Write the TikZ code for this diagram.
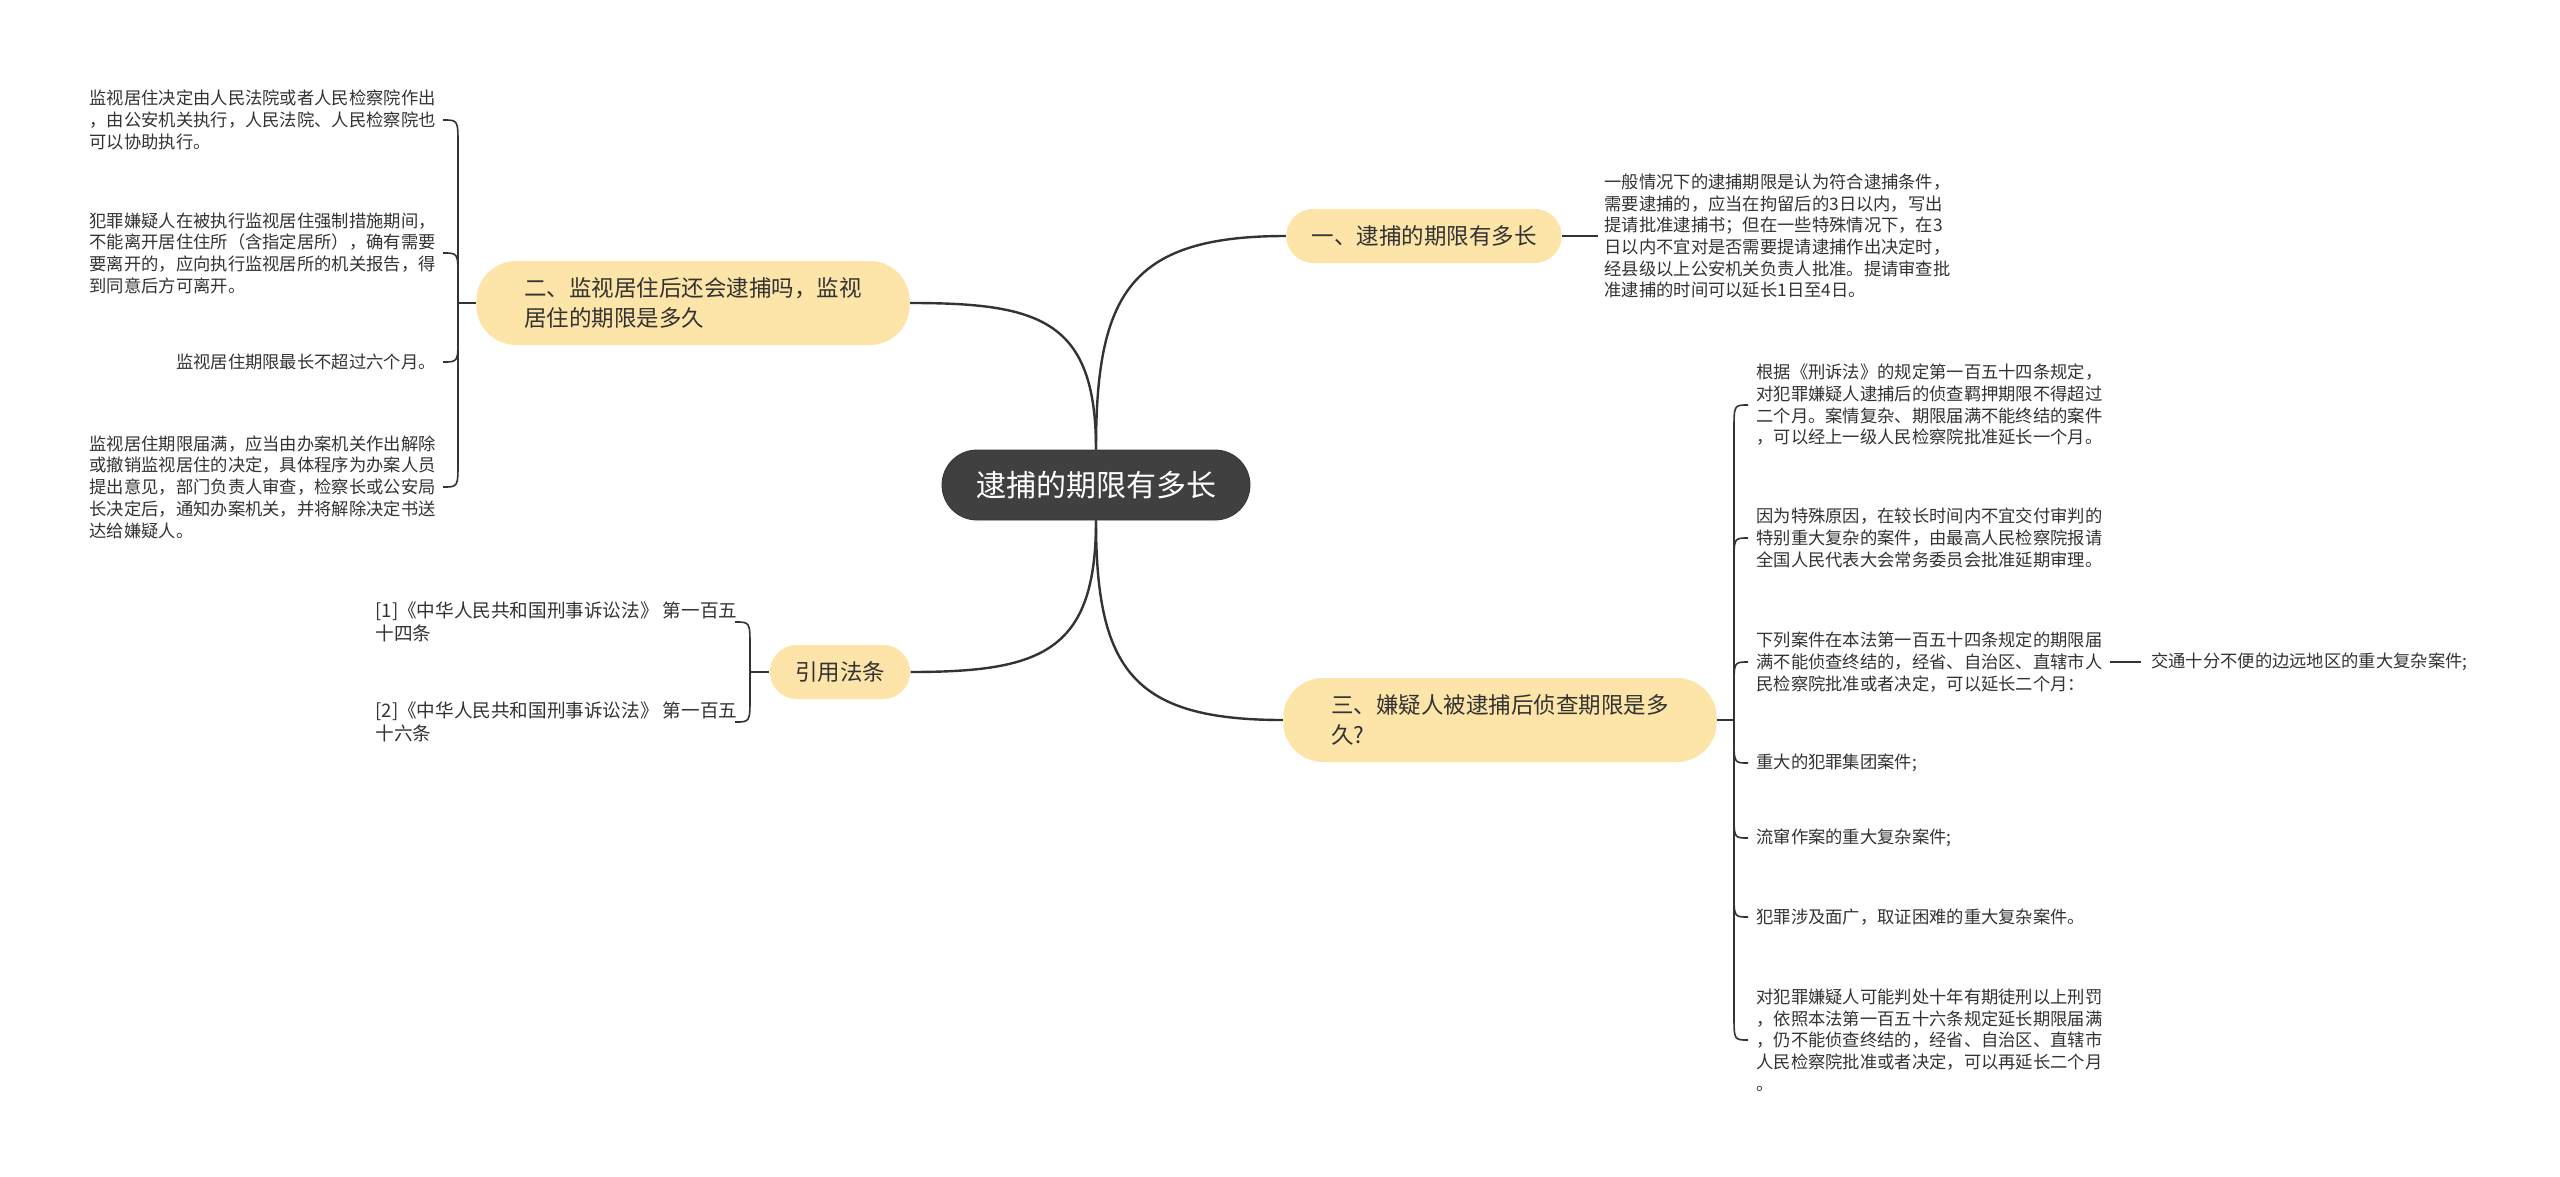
\documentclass[tikz,border=0pt]{standalone}
\usepackage{fontspec}
\setmainfont{Noto Sans CJK SC}
\usepackage{tikz}
\usetikzlibrary{positioning, calc}

\definecolor{branchFill}{HTML}{FDE5A9}
\definecolor{rootFill}{HTML}{404040}
\definecolor{lineGray}{HTML}{333333}
\definecolor{textGray}{HTML}{333333}

\begin{document}
\begin{tikzpicture}[ % 思维导图: 逮捕的期限
    x=0.5pt, y=-0.5pt, % 坐标按像素计
    root/.style={rectangle, draw=black!80, fill=rootFill, text=white, rounded corners=17.5pt, minimum width=154pt, minimum height=35pt, inner sep=0pt, font=\fontsize{15}{18}\selectfont},
    branch/.style={rectangle, fill=branchFill, text=textGray, rounded corners=13.5pt, minimum height=27pt, inner xsep=12.6pt, inner ysep=0pt, font=\fontsize{11.25}{15}\selectfont},
    branchwide/.style={branch, rounded corners=20pt, minimum height=42pt, inner xsep=24pt, align=left}, % 两行的分支
    leaf/.style={text=textGray, inner sep=0pt, align=left, font=\fontsize{8.65}{10.85}\selectfont},
    citeleaf/.style={leaf, font=\fontsize{9.3}{11.5}\selectfont}, % 引用条文稍宽
    mainline/.style={draw=lineGray, line width=1.2pt},
    subline/.style={draw=lineGray, line width=0.8pt}
    ]

    \fill[white] (0,0) rectangle (2560,1177);
    \useasboundingbox (0,0) rectangle (2560,1177);

    % Root and branches
    \node [root] (root) at (1096,485) {逮捕的期限有多长};
    \node [branch] (durationA) at (1424,236) {一、逮捕的期限有多长};
    \node [branchwide] (residenceB) at (693,303) {二、监视居住后还会逮捕吗，监视\\居住的期限是多久};
    \node [branch] (citeLaw) at (840,672) {引用法条};
    \node [branchwide] (detentionC) at (1500,720) {三、嫌疑人被逮捕后侦查期限是多\\久?};

    % 一
    \node [leaf, right=21pt of durationA] (durationText) {一般情况下的逮捕期限是认为符合逮捕条件，\\需要逮捕的，应当在拘留后的3日以内，写出\\提请批准逮捕书；但在一些特殊情况下，在3\\日以内不宜对是否需要提请逮捕作出决定时，\\经县级以上公安机关负责人批准。提请审查批\\准逮捕的时间可以延长1日至4日。};

    % 二
    \node [leaf, anchor=east] (residenceDecide) at (436,120) {监视居住决定由人民法院或者人民检察院作出\\，由公安机关执行，人民法院、人民检察院也\\可以协助执行。};
    \node [leaf, anchor=east] (residenceLeave) at (436,253) {犯罪嫌疑人在被执行监视居住强制措施期间，\\不能离开居住住所（含指定居所），确有需要\\要离开的，应向执行监视居所的机关报告，得\\到同意后方可离开。};
    \node [leaf, anchor=east] (residenceMax) at (436,362) {监视居住期限最长不超过六个月。};
    \node [leaf, anchor=east] (residenceEnd) at (436,487) {监视居住期限届满，应当由办案机关作出解除\\或撤销监视居住的决定，具体程序为办案人员\\提出意见，部门负责人审查，检察长或公安局\\长决定后，通知办案机关，并将解除决定书送\\达给嫌疑人。};

    % 引用法条
    \node [citeleaf, anchor=west] (citeFirst) at (375,622) {[1]《中华人民共和国刑事诉讼法》 第一百五\\十四条};
    \node [citeleaf, anchor=west] (citeSecond) at (375,722) {[2]《中华人民共和国刑事诉讼法》 第一百五\\十六条};

    % 三
    \node [leaf, anchor=west] (caseBasic) at (1756,405) {根据《刑诉法》的规定第一百五十四条规定，\\对犯罪嫌疑人逮捕后的侦查羁押期限不得超过\\二个月。案情复杂、期限届满不能终结的案件\\，可以经上一级人民检察院批准延长一个月。};
    \node [leaf, anchor=west] (caseSpecial) at (1756,538) {因为特殊原因，在较长时间内不宜交付审判的\\特别重大复杂的案件，由最高人民检察院报请\\全国人民代表大会常务委员会批准延期审理。};
    \node [leaf, anchor=west] (caseListed) at (1756,662) {下列案件在本法第一百五十四条规定的期限届\\满不能侦查终结的，经省、自治区、直辖市人\\民检察院批准或者决定，可以延长二个月：};
    \node [leaf, right=24pt of caseListed] (caseRemote) {交通十分不便的边远地区的重大复杂案件;};
    \node [leaf, anchor=west] (caseGang) at (1756,763) {重大的犯罪集团案件;};
    \node [leaf, anchor=west] (caseRoving) at (1756,838) {流窜作案的重大复杂案件;};
    \node [leaf, anchor=west] (caseWide) at (1756,917) {犯罪涉及面广，取证困难的重大复杂案件。};
    \node [leaf, anchor=west] (caseHeavy) at (1756,1040) {对犯罪嫌疑人可能判处十年有期徒刑以上刑罚\\，依照本法第一百五十六条规定延长期限届满\\，仍不能侦查终结的，经省、自治区、直辖市\\人民检察院批准或者决定，可以再延长二个月\\。};

    % Root to branches
    \path [mainline] (root.north) to[out=90, in=180, looseness=1.4] (durationA.west);
    \path [mainline] (root.north) to[out=90, in=0, looseness=1.4] (residenceB.east);
    \path [mainline] (root.south) to[out=-90, in=0, looseness=1.4] (citeLaw.east);
    \path [mainline] (root.south) to[out=-90, in=180, looseness=1.4] (detentionC.west);

    % 一
    \path [subline] (durationA.east) -- ([xshift=-3pt]durationText.west);

    % 二: bracket
    \coordinate (residenceSpine) at (458,303);
    \path [subline] (residenceB.west) -- (residenceSpine);
    \path [subline] (residenceSpine) -- ($(residenceSpine |- residenceDecide.east)+(0,25)$) .. controls (residenceSpine |- residenceDecide.east) .. ($(residenceSpine |- residenceDecide.east)+(-15,0)$);
    \path [subline] (residenceSpine) -- ($(residenceSpine |- residenceLeave.east)+(0,25)$) .. controls (residenceSpine |- residenceLeave.east) .. ($(residenceSpine |- residenceLeave.east)+(-15,0)$);
    \path [subline] (residenceSpine) -- ($(residenceSpine |- residenceMax.east)+(0,-25)$) .. controls (residenceSpine |- residenceMax.east) .. ($(residenceSpine |- residenceMax.east)+(-15,0)$);
    \path [subline] (residenceSpine) -- ($(residenceSpine |- residenceEnd.east)+(0,-25)$) .. controls (residenceSpine |- residenceEnd.east) .. ($(residenceSpine |- residenceEnd.east)+(-15,0)$);

    % 引用法条: bracket
    \coordinate (citeSpine) at (750,672);
    \path [subline] (citeLaw.west) -- (citeSpine);
    \path [subline] (citeSpine) -- ($(citeSpine |- citeFirst.east)+(0,25)$) .. controls (citeSpine |- citeFirst.east) .. ($(citeSpine |- citeFirst.east)+(-15,0)$);
    \path [subline] (citeSpine) -- ($(citeSpine |- citeSecond.east)+(0,-25)$) .. controls (citeSpine |- citeSecond.east) .. ($(citeSpine |- citeSecond.east)+(-15,0)$);

    % 三: bracket
    \coordinate (detentionSpine) at (1734,720);
    \path [subline] (detentionC.east) -- (detentionSpine);
    \path [subline] (detentionSpine) -- ($(detentionSpine |- caseBasic.west)+(0,25)$) .. controls (detentionSpine |- caseBasic.west) .. ($(detentionSpine |- caseBasic.west)+(14,0)$);
    \path [subline] (detentionSpine) -- ($(detentionSpine |- caseSpecial.west)+(0,25)$) .. controls (detentionSpine |- caseSpecial.west) .. ($(detentionSpine |- caseSpecial.west)+(14,0)$);
    \path [subline] (detentionSpine) -- ($(detentionSpine |- caseListed.west)+(0,25)$) .. controls (detentionSpine |- caseListed.west) .. ($(detentionSpine |- caseListed.west)+(14,0)$);
    \path [subline] (detentionSpine) -- ($(detentionSpine |- caseGang.west)+(0,-25)$) .. controls (detentionSpine |- caseGang.west) .. ($(detentionSpine |- caseGang.west)+(14,0)$);
    \path [subline] (detentionSpine) -- ($(detentionSpine |- caseRoving.west)+(0,-25)$) .. controls (detentionSpine |- caseRoving.west) .. ($(detentionSpine |- caseRoving.west)+(14,0)$);
    \path [subline] (detentionSpine) -- ($(detentionSpine |- caseWide.west)+(0,-25)$) .. controls (detentionSpine |- caseWide.west) .. ($(detentionSpine |- caseWide.west)+(14,0)$);
    \path [subline] (detentionSpine) -- ($(detentionSpine |- caseHeavy.west)+(0,-25)$) .. controls (detentionSpine |- caseHeavy.west) .. ($(detentionSpine |- caseHeavy.west)+(14,0)$);
    \path [subline] ([xshift=3.5pt]caseListed.east) -- ([xshift=-5pt]caseRemote.west);

\end{tikzpicture}
\end{document}
